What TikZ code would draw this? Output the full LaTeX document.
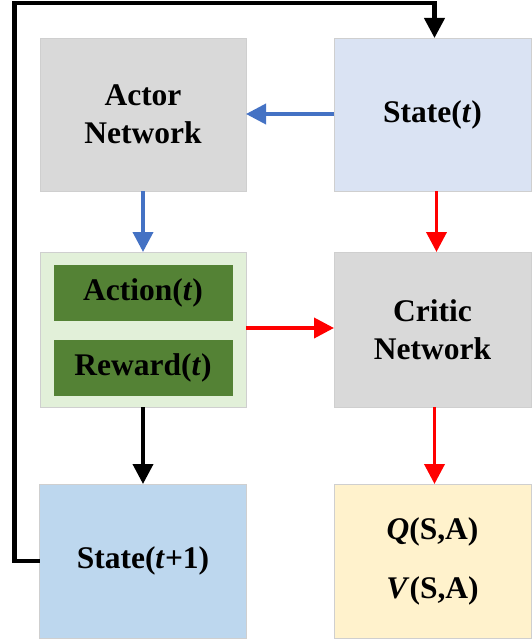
\documentclass[tikz,border=0pt]{standalone}
\usepackage{fontspec}
\setmainfont{Liberation Serif}
\usetikzlibrary{arrows.meta}
\definecolor{boxgray}{HTML}{D9D9D9}
\definecolor{lightblue}{HTML}{DAE3F3}
\definecolor{midblue}{HTML}{BDD7EE}
\definecolor{paleyellow}{HTML}{FFF2CC}
\definecolor{palegreen}{HTML}{E2F0D9}
\definecolor{darkgreen}{HTML}{548235}
\definecolor{edgegray}{HTML}{CFCFCF}
\definecolor{arrowblue}{HTML}{4472C4}
\definecolor{arrowred}{HTML}{FF0000}
\tikzset{
  block/.style={draw=edgegray, line width=0.6pt, inner sep=0pt, outer sep=0pt,
    font=\fontsize{31.5}{38}\selectfont\bfseries, align=center},
  inblock/.style={draw=palegreen, line width=0.6pt, fill=darkgreen, inner sep=0pt, outer sep=0pt,
    font=\fontsize{31.5}{38}\selectfont\bfseries, align=center},
  flow/.style={line width=3.8pt, -{Triangle[width=20pt,length=20pt]}},
}
\begin{document}
\begin{tikzpicture}[x=1pt,y=-1pt]
  \useasboundingbox (0,0) rectangle (531,642);
  % boxes
  \node[block, fill=boxgray, minimum width=206pt, minimum height=153pt] (actor) at (143,114.5) {Actor\\Network};
  \node[block, fill=lightblue, minimum width=197pt, minimum height=153pt] (state) at (432.5,114.5) {State(\textit{t})};
  \node[block, fill=palegreen, minimum width=206pt, minimum height=155pt] (ar) at (143,329.5) {};
  \node[inblock, minimum width=180pt, minimum height=57pt] (action) at (143,292.5) {Action(\textit{t})};
  \node[inblock, minimum width=180pt, minimum height=57pt] (reward) at (143,367.5) {Reward(\textit{t})};
  \node[block, fill=boxgray, minimum width=197pt, minimum height=155pt] (critic) at (432.5,329.5) {Critic\\Network};
  \node[block, fill=midblue, minimum width=207pt, minimum height=154pt] (next) at (143,561) {State(\textit{t}+1)};
  \node[block, fill=paleyellow, minimum width=197pt, minimum height=154pt] (value) at (432.5,561)
    {\textit{Q}(S,A)\\[21pt]\textit{V}(S,A)};
  % connectors
  \draw[flow, arrowblue] (state.west |- 0,114) -- (actor.east |- 0,114);
  \draw[flow, arrowblue] (actor.south) -- (ar.north);
  \draw[flow, arrowred] ([xshift=4pt]state.south) -- ([xshift=4pt]critic.north);
  \draw[flow, arrowred] (ar.east |- 0,328) -- (critic.west |- 0,328);
  \draw[flow, arrowred] ([xshift=2pt]critic.south) -- ([xshift=2pt]value.north);
  \draw[flow, black] (ar.south) -- (next.north);
  \coordinate (loopA) at (14.5,561);
  \coordinate (loopB) at (14.5,3);
  \coordinate (loopC) at (434.5,3);
  \draw[flow, black, line width=4.2pt, line join=miter]
    (next.west) -- (loopA) -- (loopB) -- (loopC) -- ([xshift=2pt]state.north);
\end{tikzpicture}
\end{document}
